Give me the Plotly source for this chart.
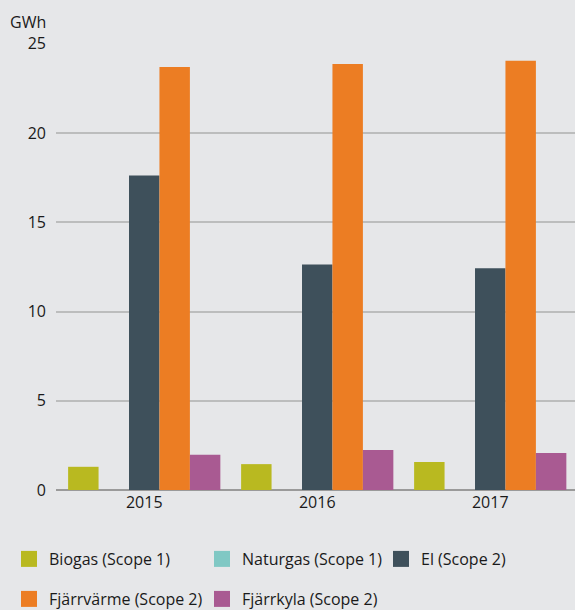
import plotly.graph_objects as go

years = ["2015", "2016", "2017"]
series_names = ["Biogas (Scope 1)", "Naturgas (Scope 1)", "El (Scope 2)",
                "Fjärrvärme (Scope 2)", "Fjärrkyla (Scope 2)"]
biogas = [1.3, 1.45, 1.57]
naturgas = [0, 0, 0]
el = [17.62, 12.64, 12.42]
fjarrvarme = [23.71, 23.88, 24.05]
fjarrkyla = [1.97, 2.24, 2.07]
y_ticks = [0, 5, 10, 15, 20, 25]

values = [biogas, naturgas, el, fjarrvarme, fjarrkyla]
colors = ["#b9b920", "#80c8c4", "#3e505b", "#ec7d23", "#a95a92"]

W, H = 575, 610
FONT = "Open Sans"
TXT = "#1a1a1a"

fig = go.Figure()
for name, vals, col in zip(series_names, values, colors):
    fig.add_trace(go.Bar(x=years, y=vals, name=name, marker=dict(color=col, line=dict(width=0)),
                         showlegend=False))

# legend entries (square swatches), one legend per position
legend_pos = [(9, 559), (202, 559), (381, 559), (9, 599), (202, 599)]
for i, (name, col) in enumerate(zip(series_names, colors)):
    lg = "legend" if i == 0 else f"legend{i+1}"
    fig.add_trace(go.Scatter(x=[None], y=[None], mode="markers", name=name,
                             marker=dict(symbol="square", size=16, color=col),
                             legend=lg, showlegend=True))

legend_layout = {}
for i, (px, py) in enumerate(legend_pos):
    key = "legend" if i == 0 else f"legend{i+1}"
    legend_layout[key] = dict(xref="container", yref="container",
                              x=px / W, y=1 - py / H, xanchor="left", yanchor="middle",
                              bgcolor="rgba(0,0,0,0)", borderwidth=0,
                              font=dict(family=FONT, size=16, color=TXT),
                              itemsizing="trace")

fig.update_layout(
    width=W, height=H,
    margin=dict(l=56, r=0, t=43, b=120, autoexpand=False),
    paper_bgcolor="#e6e7e9", plot_bgcolor="#e6e7e9",
    barmode="group", bargap=0.12, bargroupgap=0,
    font=dict(family=FONT, size=16, color=TXT),
    xaxis=dict(type="category", range=[-0.51, 2.49], showgrid=False, showline=False,
               zeroline=False, ticks="", tickfont=dict(family=FONT, size=16, color=TXT),
               ticklabelstandoff=1),
    yaxis=dict(range=[0, 25.05], tickvals=y_ticks, showgrid=True, gridcolor="#bcbdbd",
               gridwidth=1.5, zeroline=True, zerolinecolor="#9a9a9a", zerolinewidth=2,
               showline=False, ticks="", ticklabelstandoff=9,
               tickfont=dict(family=FONT, size=16, color=TXT)),
    annotations=[dict(text="GWh", xref="paper", yref="paper", x=-48 / 519,
                      y=1 + 21 / 447, xanchor="left", yanchor="middle", showarrow=False,
                      font=dict(family=FONT, size=16, color=TXT))],
    **legend_layout,
)

fig.write_html("out.html", config={"displayModeBar": False},
               post_script="document.body.style.margin='0';document.body.style.overflow='hidden';")
